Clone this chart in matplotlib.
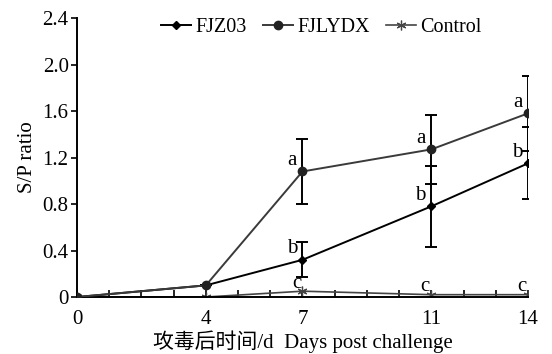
import numpy as np
import matplotlib.pyplot as plt
from matplotlib.lines import Line2D

plt.rcParams['font.family'] = ['Liberation Serif', 'Noto Sans CJK SC']

# data
days = [0, 4, 7, 11, 14]
fjz03 = [0, 0.10, 0.32, 0.78, 1.15]
fjz03_err = [0, 0, 0.15, 0.35, 0.31]
fjlydx = [0, 0.10, 1.08, 1.27, 1.58]
fjlydx_err = [0, 0, 0.28, 0.30, 0.32]
control = [0, 0, 0.05, 0.02, 0.02]
fjz03_lab = ['', '', 'b', 'b', 'b']
fjlydx_lab = ['', '', 'a', 'a', 'a']
control_lab = ['', '', 'c', 'c', 'c']

fs = 15
star = (6, 2, 0)

fig = plt.figure(figsize=(5.52, 3.54), dpi=100)
ax = fig.add_axes([0.1395, 0.161, 0.817, 0.788])

ax.plot(days, control, color='#444444', lw=1.2, marker=star, ms=7, mew=0.9, zorder=2)
ax.errorbar(days, fjz03, yerr=fjz03_err, color='black', lw=1.4, marker='D', ms=4,
            capsize=4, elinewidth=1.4, capthick=1.4, zorder=3)
ax.errorbar(days, fjlydx, yerr=fjlydx_err, color='#3a3a3a', lw=1.4, marker='o', ms=6,
            mfc='#222222', mec='#222222', ecolor='black', capsize=4, elinewidth=1.4,
            capthick=1.4, zorder=3)

for x, y, t in zip(days, fjz03, fjz03_lab):
    ax.annotate(t, (x, y), xytext=(-4, 1), textcoords='offset points',
                ha='right', va='bottom', fontsize=fs)
for x, y, t in zip(days, fjlydx, fjlydx_lab):
    ax.annotate(t, (x, y), xytext=(-4, 1), textcoords='offset points',
                ha='right', va='bottom', fontsize=fs)
for x, y, t in zip(days, control, control_lab):
    ax.annotate(t, (x, y), xytext=(-1, -1), textcoords='offset points',
                ha='right', va='bottom', fontsize=fs)

ax.set_xlim(0, 14)
ax.set_ylim(0, 2.4)
ax.set_xticks(days)
ax.set_xticklabels(['0', '4', '7', '11', '14'])
ax.set_xticks(np.arange(0, 15), minor=True)
ax.set_yticks([0, 0.4, 0.8, 1.2, 1.6, 2.0, 2.4])
ax.set_yticklabels(['0', '0.4', '0.8', '1.2', '1.6', '2.0', '2.4'])
ax.tick_params(axis='x', which='both', direction='in', length=5, width=1.2,
               labelsize=fs, pad=9)
ax.tick_params(axis='y', direction='out', length=4, width=1.2, labelsize=fs, pad=2)
ax.spines['top'].set_visible(False)
ax.spines['right'].set_visible(False)
ax.spines['left'].set_linewidth(1.4)
ax.spines['bottom'].set_linewidth(1.4)
ax.set_ylabel('S/P ratio', fontsize=fs, labelpad=4)
ax.set_xlabel('攻毒后时间/d  Days post challenge', fontsize=fs, labelpad=1)

handles = [
    Line2D([], [], color='black', lw=1.4, marker='D', ms=4),
    Line2D([], [], color='#3a3a3a', lw=1.4, marker='o', ms=6, mfc='#222222', mec='#222222'),
    Line2D([], [], color='#444444', lw=1.2, marker=star, ms=7, mew=0.9),
]
fig.legend(handles, ['FJZ03', 'FJLYDX', 'Control'], loc='center',
           bbox_to_anchor=(0.582, 0.922), ncol=3, frameon=False, fontsize=14.5,
           handlelength=1.5, handletextpad=0.2, columnspacing=0.8)

fig.savefig('out.png', dpi=100, facecolor='white')
